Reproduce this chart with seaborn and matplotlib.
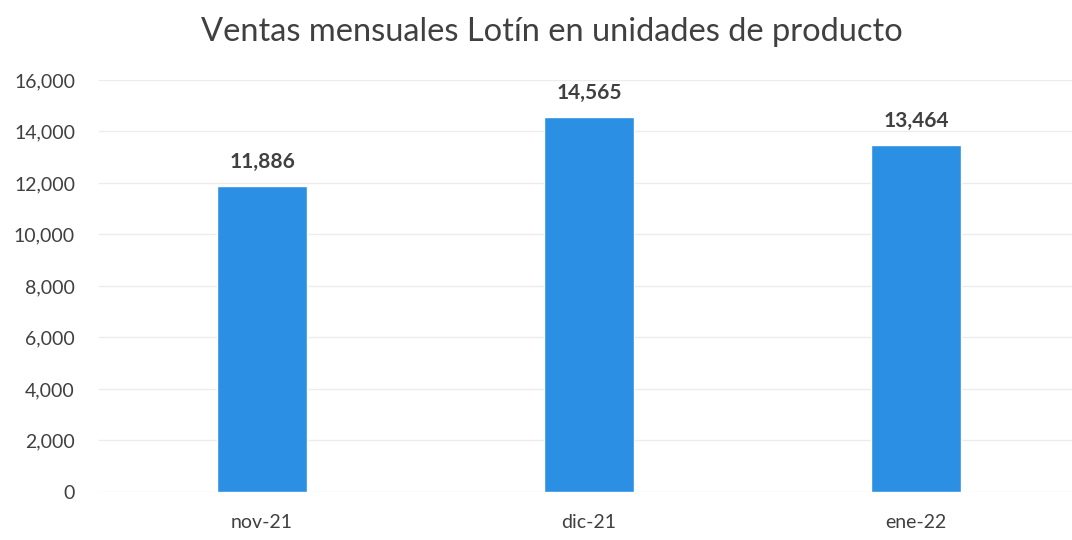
import matplotlib
matplotlib.use("Agg")
import matplotlib.pyplot as plt
import seaborn as sns
import pandas as pd

months = ["nov-21", "dic-21", "ene-22"]
units = [11886, 14565, 13464]

sns.set_theme(style="white")
plt.rcParams['font.family'] = ['Lato', 'DejaVu Sans']

df = pd.DataFrame({"mes": months, "unidades": units})

fig = plt.figure(figsize=(10.72, 5.4), dpi=100)
ax = fig.add_axes([0.092, 0.089, 0.915, 0.763])
sns.barplot(data=df, x="mes", y="unidades", color="#2b8fe3", width=0.275,
            saturation=1, ax=ax)

ax.set_ylim(0, 16000)
ax.set_yticks(range(0, 16001, 2000))
ax.set_yticklabels([f"{v:,}" for v in range(0, 16001, 2000)])
ax.yaxis.grid(True, color="#ececec", linewidth=1)
ax.set_axisbelow(True)
for s in ax.spines.values():
    s.set_visible(False)
ax.set_xlabel("")
ax.set_ylabel("")
ax.tick_params(axis="both", length=0, labelsize=14, colors="#404040")
ax.tick_params(axis="x", pad=16)
ax.tick_params(axis="y", pad=17)

for c in ax.containers:
    ax.bar_label(c, labels=[f"{v:,}" for v in units], padding=10,
                 fontsize=15, fontweight="bold", color="#404040")

fig.text(0.515, 0.94, "Ventas mensuales Lotín en unidades de producto",
         ha="center", va="center", fontsize=23.5, color="#404040")

fig.savefig("out.png", dpi=100)
